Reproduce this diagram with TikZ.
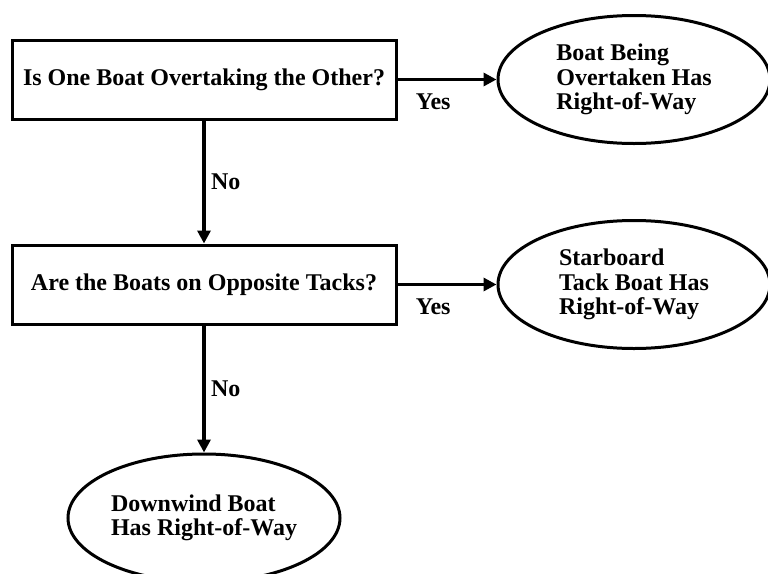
\documentclass[tikz,border=0pt]{standalone}
\usepackage{fontspec}
\setmainfont{Liberation Serif}
\usetikzlibrary{shapes.geometric}
\usetikzlibrary{arrows.meta, positioning}

\begin{document}
\begin{tikzpicture}[x = 1pt, y = -1pt, ->, > = {Triangle[length = 13pt, width = 13pt]}, line width = 3.5pt,
	every node/.style = {font = \fontsize{24}{24.5}\selectfont\bfseries},
	question/.style = {draw, rectangle, line width = 3pt, minimum width = 384pt, minimum height = 79pt},
	answer/.style = {draw, ellipse, line width = 3pt, align = left, inner sep = 0pt, minimum width = 272pt, minimum height = 128pt}]

\useasboundingbox (0,0) rectangle (768,573);

\node[question]				(0) at (204,79.5)		{Is One Boat Overtaking the Other?};
\node[answer]				(1) [right=99pt of 0]	{Boat Being\\Overtaken Has\\Right-of-Way};
\node[question]				(2) [below=123pt of 0]	{Are the Boats on Opposite Tacks?};
\node[answer]				(3) [right=99pt of 2]	{Starboard\\Tack Boat Has\\Right-of-Way};
\node[answer]				(4) [below=127pt of 2]	{Downwind Boat\\Has Right-of-Way};

\path	(0)	edge	node[below = 9pt, pos = 0.36]	{Yes}	(1);
\path	(0)	edge	node[right = 2pt]				{No}	(2);
\path	(2)	edge	node[below = 9pt, pos = 0.36]	{Yes}	(3);
\path	(2)	edge	node[right = 2pt]				{No}	(4);

\end{tikzpicture}
\end{document}
